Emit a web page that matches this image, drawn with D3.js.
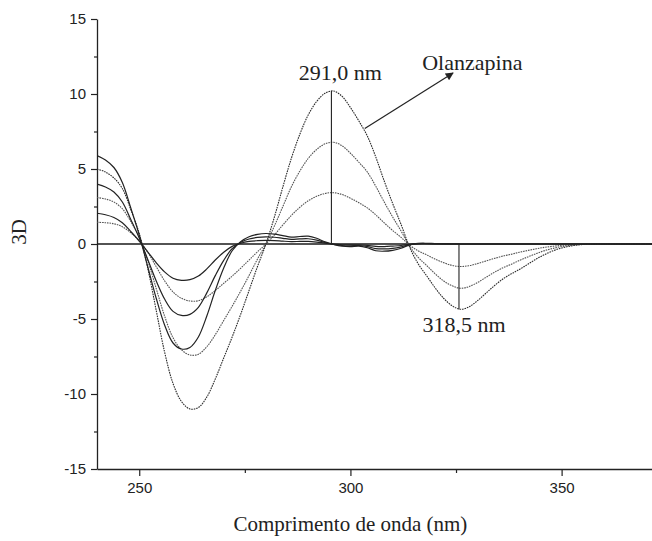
<!DOCTYPE html>
<html><head><meta charset="utf-8">
<script src="https://cdn.jsdelivr.net/npm/d3@7/dist/d3.min.js"></script>
<style>body{margin:0;background:#fff}svg{display:block}</style>
</head><body><svg id="c" width="652" height="541"></svg>
<script>
// ---- data ----
const wavelengths = [240,242,244,246,248,250,252,254,256,258,
  260,262,264,266,268,270,272,274,276,278,
  280,282,284,286,288,290,292,294,296,298,
  300,302,304,306,308,310,312,314,316,318,
  320,322,324,326,328,330,332,334,336,338,
  340,342,344,346,348,350,352,354,356,
  360,366,372];

// Olanzapina (dotted) – three concentrations
const olanzapina3 = [5.0,4.8,4.4,3.7,2.3,0.7,-1.6,-4.4,-7.2,-9.3,
  -10.5,-11.0,-10.9,-10.2,-9.0,-7.6,-6.2,-4.7,-3.1,-1.5,
  0.0,1.8,3.8,5.7,7.3,8.6,9.5,10.05,10.2,9.85,
  9.1,8.2,7.2,5.8,4.2,2.7,1.3,-0.2,-1.3,-2.1,
  -2.9,-3.6,-4.1,-4.35,-4.2,-3.8,-3.3,-2.8,-2.35,-2.0,
  -1.7,-1.35,-1.0,-0.7,-0.45,-0.27,-0.14,-0.06,-0.02,
  0,0,0];
const olanzapina2 = [3.1,3.0,2.8,2.35,1.5,0.45,-1.1,-2.95,-4.8,-6.25,
  -7.05,-7.4,-7.35,-6.85,-6.05,-5.1,-4.15,-3.15,-2.1,-1.0,
  0.0,1.2,2.5,3.8,4.85,5.7,6.3,6.68,6.78,6.55,
  6.05,5.45,4.8,3.85,2.8,1.8,0.86,-0.13,-0.88,-1.42,
  -1.97,-2.45,-2.78,-2.95,-2.85,-2.58,-2.24,-1.9,-1.6,-1.36,
  -1.1,-0.86,-0.64,-0.44,-0.29,-0.17,-0.09,-0.04,-0.01,
  0,0,0];
const olanzapina1 = [1.45,1.42,1.35,1.15,0.75,0.2,-0.55,-1.5,-2.45,-3.2,
  -3.62,-3.8,-3.78,-3.52,-3.1,-2.62,-2.14,-1.62,-1.07,-0.52,
  0.0,0.6,1.27,1.9,2.44,2.88,3.18,3.37,3.42,3.3,
  3.05,2.75,2.41,1.94,1.41,0.9,0.44,-0.07,-0.45,-0.72,
  -1.0,-1.24,-1.42,-1.5,-1.45,-1.31,-1.14,-0.97,-0.81,-0.69,
  -0.55,-0.43,-0.32,-0.22,-0.15,-0.09,-0.05,-0.02,0,
  0,0,0];

// Mixture (solid) – three concentrations
const mistura3 = [5.9,5.6,5.1,4.1,2.4,0.6,-1.5,-3.6,-5.4,-6.6,
  -7.0,-6.9,-6.2,-4.8,-3.1,-1.6,-0.45,0.15,0.48,0.64,
  0.7,0.66,0.56,0.46,0.5,0.52,0.38,0.14,-0.03,-0.15,
  -0.18,-0.14,-0.25,-0.45,-0.48,-0.42,-0.28,-0.06,0.04,0.05,
  0.03,0.02,0.01,0,0,0,0,0,0,0,
  0,0,0,0,0,0,0,0,0,
  0,0,0];
const mistura2 = [4.0,3.8,3.47,2.8,1.63,0.4,-1.02,-2.45,-3.67,-4.49,
  -4.76,-4.69,-4.22,-3.26,-2.11,-1.09,-0.31,0.1,0.33,0.44,
  0.48,0.45,0.38,0.31,0.34,0.35,0.26,0.1,-0.02,-0.1,
  -0.12,-0.1,-0.17,-0.31,-0.33,-0.29,-0.19,-0.04,0.03,0.03,
  0.02,0.01,0,0,0,0,0,0,0,0,
  0,0,0,0,0,0,0,0,0,
  0,0,0];
const mistura1 = [2.05,1.95,1.77,1.42,0.83,0.2,-0.52,-1.24,-1.86,-2.28,
  -2.42,-2.38,-2.14,-1.66,-1.07,-0.55,-0.16,0.05,0.17,0.22,
  0.24,0.23,0.19,0.16,0.17,0.18,0.13,0.05,-0.01,-0.05,
  -0.06,-0.05,-0.09,-0.16,-0.17,-0.14,-0.1,-0.02,0.01,0.02,
  0.01,0,0,0,0,0,0,0,0,0,
  0,0,0,0,0,0,0,0,0,
  0,0,0];

const xTicks = [250, 300, 350];
const xMinorTicks = [275, 325];
const yTicks = [-15, -10, -5, 0, 5, 10, 15];
const yMinorTicks = [-12.5, -7.5, -2.5, 2.5, 7.5, 12.5];
const peakWavelength = 295.5;   // position of the marked maximum on the axis
const minWavelength = 325.7;    // position of the marked minimum on the axis
const peakLabel = "291,0 nm";
const minLabel = "318,5 nm";
const drugLabel = "Olanzapina";
const xTitle = "Comprimento de onda (nm)";
const yTitle = "3D";

// ---- drawing ----
const W = 652, H = 541;
const svg = d3.select("#c");
const x = d3.scaleLinear().domain([240, 371.4]).range([97, 652]);
const y = d3.scaleLinear().domain([-15, 15]).range([469, 19]);

svg.append("defs").append("clipPath").attr("id", "clip")
  .append("rect").attr("x", x(240)).attr("y", 0).attr("width", W - x(240)).attr("height", H);

const fmt = d => String(d);
const axisColor = "#222";

// x axis
svg.append("g").attr("transform", `translate(0,${y(-15)})`)
  .call(d3.axisBottom(x).tickValues(xTicks).tickSize(7).tickSizeOuter(0).tickPadding(6).tickFormat(fmt));
svg.append("g").attr("transform", `translate(0,${y(-15)})`)
  .call(d3.axisBottom(x).tickValues(xMinorTicks).tickSize(4).tickFormat(""))
  .select(".domain").remove();
// y axis
svg.append("g").attr("transform", `translate(${x(240)},0)`)
  .call(d3.axisLeft(y).tickValues(yTicks).tickSize(6).tickSizeOuter(0).tickPadding(5).tickFormat(fmt));
svg.append("g").attr("transform", `translate(${x(240)},0)`)
  .call(d3.axisLeft(y).tickValues(yMinorTicks).tickSize(3).tickFormat(""))
  .select(".domain").remove();

svg.selectAll(".domain").attr("stroke", axisColor).attr("stroke-width", 1.3);
svg.selectAll(".tick line").attr("stroke", axisColor).attr("stroke-width", 1.2);
svg.selectAll(".tick text").attr("font-family", "'Liberation Sans', Arial, sans-serif")
  .attr("font-size", 15).attr("fill", "#222");

// zero line
svg.append("line").attr("x1", x(240)).attr("x2", W).attr("y1", y(0)).attr("y2", y(0))
  .attr("stroke", "#1a1a1a").attr("stroke-width", 1.6);

const plot = svg.append("g").attr("clip-path", "url(#clip)");
const line = d3.line().x((d, i) => x(wavelengths[i])).y(d => y(d))
  .curve(d3.curveCatmullRom.alpha(0.5));

const dotted = [olanzapina1, olanzapina2, olanzapina3];
const solid = [mistura1, mistura2, mistura3];

plot.selectAll("path.dotted").data(dotted).join("path").attr("class", "dotted")
  .attr("d", line).attr("fill", "none")
  .attr("stroke", (d, i) => i === 2 ? "#2a2a2a" : "#555")
  .attr("stroke-width", 1.1).attr("stroke-dasharray", "1.6,0.9");
plot.selectAll("path.solid").data(solid).join("path").attr("class", "solid")
  .attr("d", line).attr("fill", "none").attr("stroke", "#222").attr("stroke-width", 1.2);

// marked maximum / minimum
const peakVal = d3.max(olanzapina3);
const minVal = d3.min(olanzapina3.filter((v, i) => wavelengths[i] > 300));
svg.append("line").attr("x1", x(peakWavelength)).attr("x2", x(peakWavelength))
  .attr("y1", y(0)).attr("y2", y(peakVal)).attr("stroke", "#222").attr("stroke-width", 1.1);
svg.append("line").attr("x1", x(minWavelength)).attr("x2", x(minWavelength))
  .attr("y1", y(0)).attr("y2", y(minVal)).attr("stroke", "#222").attr("stroke-width", 1.1);

const serif = "'Liberation Serif', 'Times New Roman', serif";
svg.append("text").attr("x", x(peakWavelength) + 9).attr("y", y(peakVal) - 11)
  .attr("text-anchor", "middle").attr("font-family", serif).attr("font-size", 22)
  .attr("fill", "#222").text(peakLabel);
svg.append("text").attr("x", x(minWavelength) + 5).attr("y", y(minVal) + 23)
  .attr("text-anchor", "middle").attr("font-family", serif).attr("font-size", 22)
  .attr("fill", "#222").text(minLabel);

// arrow to the Olanzapina curve
svg.append("defs").append("marker").attr("id", "arr").attr("viewBox", "0 0 10 10")
  .attr("refX", 9).attr("refY", 5).attr("markerWidth", 10).attr("markerHeight", 8)
  .attr("markerUnits", "userSpaceOnUse").attr("orient", "auto")
  .append("path").attr("d", "M0,0 L10,5 L0,10 Z").attr("fill", "#222");
svg.append("line").attr("x1", x(303.4)).attr("y1", y(7.7)).attr("x2", x(324.3)).attr("y2", y(11.4))
  .attr("stroke", "#222").attr("stroke-width", 1.2).attr("marker-end", "url(#arr)");
svg.append("text").attr("x", x(317)).attr("y", y(11.6)).attr("font-family", serif)
  .attr("font-size", 22).attr("fill", "#222").text(drugLabel);

// axis titles
svg.append("text").attr("x", x(300)).attr("y", 531).attr("text-anchor", "middle")
  .attr("font-family", serif).attr("font-size", 21).attr("fill", "#222").text(xTitle);
svg.append("text").attr("transform", `translate(26,232) rotate(-90)`).attr("text-anchor", "middle")
  .attr("font-family", serif).attr("font-size", 21).attr("fill", "#222").text(yTitle);
</script></body></html>
